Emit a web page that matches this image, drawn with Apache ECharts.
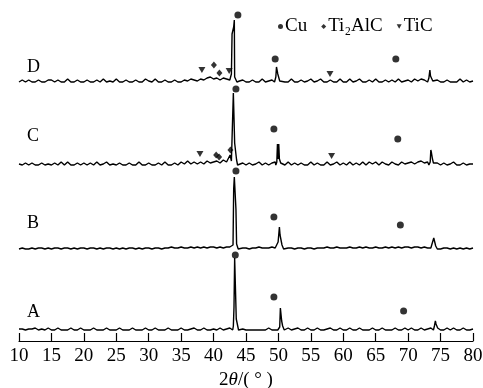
<!DOCTYPE html>
<html>
<head>
<meta charset="utf-8">
<script src="https://cdn.jsdelivr.net/npm/echarts@6/dist/echarts.min.js"></script>
<style>html,body{margin:0;padding:0;background:#fff}#c{width:483px;height:388px}</style>
</head>
<body>
<div id="c"></div>
<script>
// Tick labels / axis range
const xTicks = [10,15,20,25,30,35,40,45,50,55,60,65,70,75,80];
const sampleNames = ['A','B','C','D'];
// vertical stacking offsets of the four patterns
const offsets = [11, 92, 176, 259];
const scanStart = 10, scanStep = 0.5;

// baseline noise, one value per 0.5 degree from 10 to 80
const noiseA = [1,1,0,1,1,2,0,1,0,2, 0,0,2,0,0,0,2,0,0,2, 0,0,0,2,0,0,0,2,0,0, 0,2,0,0,0,2,0,0,0,2,
  0,0,2,0,0,0,2,0,0,0, 2,0,0,1,2,0,0,2,0,0, 1,0,2,0,1,2,0,2,0,1, 0,0,0,0,0,0,0,2,0,0,
  0,0,0,2,0,1,2,0,0,2, 0,0,2,0,0,1,2,0,0,2, 0,0,2,0,0,2,0,0,0,2, 0,0,2,0,0,0,2,0,0,2,
  0,2,0,0,2,0,1,2,0,2, 0,0,2,0,2,0,0,2,0,0, 1];
const noiseB = [0,1,0,0,1,0,1,1,0,1, 0,1,1,0,1,1,0,1,0,1, 1,0,1,1,0,1,0,1,1,0, 1,0,1,0,1,1,0,1,0,1,
  1,0,1,1,0,1,1,2,1,1, 2,1,1,2,1,2,1,2,1,2, 2,1,2,1,2,2,1,2,1,1, 1,0,1,1,2,1,1,1,2,1,
  1,1,0,1,1,0,1,1,0,1, 1,0,1,1,1,2,1,1,2,1, 1,1,2,1,1,2,1,2,1,1, 2,1,1,2,1,2,1,2,1,2,
  2,1,2,2,1,2,1,1,1,1, 0,1,1,0,1,0,1,0,1,0, 1];
const noiseC = [1,0,2,0,2,0,0,2,0,1, 0,2,0,3,0,3,0,0,2,0, 2,0,2,0,3,0,1,3,0,1, 0,2,0,0,2,0,0,3,0,0,
  2,0,0,2,0,3,0,0,2,0, 3,1,4,1,3,1,3,1,4,2, 3,4,2,5,3,2,1,2,1,2, 0,2,0,1,3,0,2,0,2,3,
  2,0,0,3,0,2,0,2,0,0, 3,0,2,0,0,3,0,1,3,0, 2,0,3,0,2,0,3,0,3,1, 3,0,3,1,0,3,1,0,3,1,
  2,3,1,3,4,2,3,1,0,2, 0,2,0,1,3,0,0,2,0,1, 1];
const noiseD = [0,2,0,2,0,0,2,0,0,2, 2,0,2,0,0,3,0,0,2,0, 0,2,0,0,2,0,3,0,1,0, 3,0,0,2,0,0,2,0,0,3,
  1,0,3,0,0,2,0,0,2,0, 0,2,1,3,2,1,3,2,4,5, 3,4,2,4,3,2,0,2,1,2, 0,0,2,0,0,3,0,1,2,3,
  0,2,0,0,3,0,0,2,0,1, 3,0,1,3,0,0,2,0,0,3, 0,0,3,0,1,3,0,0,2,0, 3,0,0,2,0,2,0,3,0,1,
  2,0,3,1,3,2,2,3,1,2, 0,0,2,0,0,0,3,0,2,0, 1];

// diffraction peaks: [2theta, height above baseline]
const peaksA = [
  [[42.95,0],[43.05,4],[43.15,23],[43.25,72],[43.45,72],[43.5,11],[43.8,10],[43.85,0]],
  [[49.9,0],[50.0,2],[50.2,3],[50.3,22],[50.4,21],[50.5,9],[50.65,4],[50.9,0]],
  [[73.9,0],[74.05,4],[74.2,9],[74.3,6],[74.4,8],[74.55,2],[74.7,0]]
];
const peaksB = [
  [[42.8,0],[43.0,4],[43.1,60],[43.2,72],[43.35,71],[43.45,40],[43.55,5],[43.8,0]],
  [[49.8,0],[49.95,7],[50.05,8],[50.15,22],[50.25,14],[50.4,12],[50.55,4],[50.8,0]],
  [[73.6,0],[73.8,3],[73.95,11],[74.1,7],[74.25,3],[74.5,0]]
];
const peaksC = [
  [[42.3,2],[42.55,10],[42.75,4],[42.95,3],[43.05,72],[43.15,72],[43.25,22],[43.4,20],[43.55,5],[43.7,0]],
  [[49.6,0],[49.75,3],[49.85,21],[49.95,6],[50.05,21],[50.15,6],[50.35,2],[50.6,0]],
  [[73.2,0],[73.4,3],[73.5,15],[73.6,12],[73.75,6],[73.9,2],[74.1,0]]
];
const peaksD = [
  [[42.6,0],[42.75,8],[42.85,48],[43.1,55],[43.2,62],[43.25,5],[43.5,3],[43.6,0]],
  [[49.4,0],[49.6,5],[49.7,15],[49.8,13],[49.9,8],[50.05,6],[50.2,1],[50.3,0]],
  [[73.0,0],[73.2,4],[73.35,12],[73.45,6],[73.6,5],[73.8,1],[74.0,0]]
];

// phase markers, [2theta, stacked position]
const cuMarks = [[43.35,86],[49.3,44],[69.3,30],
                 [43.45,170],[49.3,124],[68.8,116],
                 [43.45,252],[49.3,212],[68.4,202],
                 [43.75,326],[49.5,282],[68.1,282]];
const ti2alcMarks = [[40.4,186],[40.85,184],[42.6,191],
                     [40.05,276],[40.9,268]];
const ticMarks = [[37.9,187],[58.2,185],
                  [38.2,271],[42.4,270],[57.95,267]];

function buildTrace(noise, peaks, offset) {
  const pts = [];
  noise.forEach((v, i) => {
    const x = scanStart + i * scanStep;
    const inPeak = peaks.some(p => x >= p[0][0] && x <= p[p.length - 1][0]);
    if (!inPeak) pts.push([x, offset + v]);
  });
  peaks.forEach(p => p.forEach(q => pts.push([q[0], offset + q[1]])));
  pts.sort((a, b) => a[0] - b[0]);
  return pts;
}

const traces = [
  buildTrace(noiseA, peaksA, offsets[0]),
  buildTrace(noiseB, peaksB, offsets[1]),
  buildTrace(noiseC, peaksC, offsets[2]),
  buildTrace(noiseD, peaksD, offsets[3])
];

const FONT = "'Liberation Serif','Times New Roman',serif";
const triPath = 'path://M0,0 L10,0 L5,9 Z';

const chart = echarts.init(document.getElementById('c'), null, {renderer: 'canvas'});
const series = traces.map((d, i) => ({
  type: 'line', name: 'trace' + sampleNames[i], data: d, showSymbol: false, symbol: 'none',
  lineStyle: {color: '#000', width: 1.4}, silent: true, animation: false, z: 2
}));
series.push(
  {type: 'scatter', name: 'Cu', data: cuMarks, symbol: 'circle', symbolSize: 7,
   itemStyle: {color: '#000'}, z: 3},
  {type: 'scatter', name: 'Ti\u2082AlC', data: ti2alcMarks, symbol: 'diamond', symbolSize: [6, 7],
   itemStyle: {color: '#000'}, z: 3},
  {type: 'scatter', name: 'TiC', data: ticMarks, symbol: triPath, symbolSize: [7, 6],
   itemStyle: {color: '#000'}, z: 3}
);

chart.setOption({
  animation: false,
  backgroundColor: '#fff',
  grid: {left: 19, right: 10, top: 11, bottom: 47, containLabel: false, outerBoundsMode: 'none'},
  legend: {
    data: [
      {name: 'Cu', icon: 'circle'},
      {name: 'Ti\u2082AlC', icon: 'diamond'},
      {name: 'TiC', icon: triPath}
    ],
    left: 273, top: 12, itemWidth: 5, itemHeight: 5, itemGap: 14,
    textStyle: {fontFamily: FONT, fontSize: 19, color: '#000', padding: [0, 0, 0, -3]},
    selectedMode: false
  },
  xAxis: {
    type: 'value', min: 10, max: 80, interval: 5,
    axisLine: {lineStyle: {color: '#000', width: 1.2}},
    axisTick: {inside: true, length: 8, lineStyle: {color: '#000', width: 1.2}},
    splitLine: {show: false},
    axisLabel: {fontFamily: FONT, fontSize: 19, color: '#000', margin: 6,
      formatter: v => xTicks.includes(v) ? String(v) : ''},
    name: '2{i|θ}/( ° )', nameLocation: 'middle', nameGap: 27,
    nameTextStyle: {fontFamily: FONT, fontSize: 19, color: '#000',
      rich: {i: {fontFamily: FONT, fontSize: 19, fontStyle: 'italic', color: '#000'}}}
  },
  yAxis: {type: 'value', min: 0, max: 330, show: false},
  graphic: [
    {type: 'text', left: 27, top: 303, style: {text: 'A', font: "18px 'Liberation Serif', serif", fill: '#000'}},
    {type: 'text', left: 27, top: 214, style: {text: 'B', font: "18px 'Liberation Serif', serif", fill: '#000'}},
    {type: 'text', left: 27, top: 127, style: {text: 'C', font: "18px 'Liberation Serif', serif", fill: '#000'}},
    {type: 'text', left: 27, top: 58, style: {text: 'D', font: "18px 'Liberation Serif', serif", fill: '#000'}}
  ],
  series: series
});
</script>
</body>
</html>
